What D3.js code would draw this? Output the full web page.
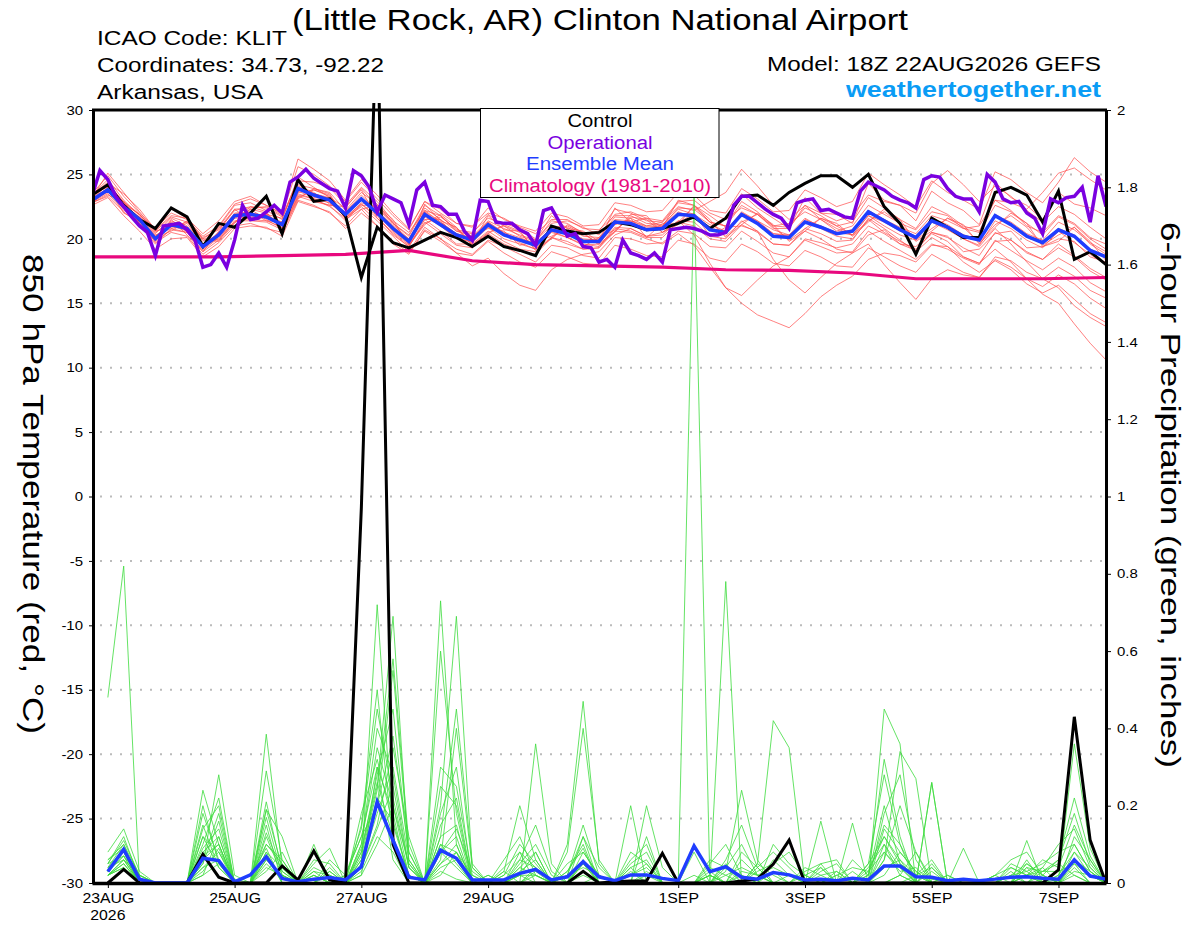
<!DOCTYPE html>
<html>
<head>
<meta charset="utf-8">
<script src="https://cdn.jsdelivr.net/npm/d3@7"></script>
<style>
  body { margin: 0; background: #fff; }
  text { font-family: "Liberation Sans", Arial, Helvetica, sans-serif; }
</style>
</head>
<body>
<svg id="chart"></svg>
<script>
// ---- data ----
const xTickDates = ["2026-08-23", "2026-08-25", "2026-08-27", "2026-08-29", "2026-09-01", "2026-09-03", "2026-09-05", "2026-09-07"];
const xTickLabels = ["23AUG", "25AUG", "27AUG", "29AUG", "1SEP", "3SEP", "5SEP", "7SEP"];
const tempTicks = [30, 25, 20, 15, 10, 5, 0, -5, -10, -15, -20, -25, -30];
const precipTicks = [0, 0.2, 0.4, 0.6, 0.8, 1, 1.2, 1.4, 1.6, 1.8, 2];
const gridTemps = [25, 20, 15, 10, 5, 0, -5, -10, -15, -20, -25];

// 850 hPa temperature, 6-hourly from 18Z 22AUG
const controlTemp = [23.4,24.2,22.6,21.5,20.8,22.4,21.7,19.4,21.2,20.9,22.0,23.3,20.4,24.6,22.9,23.1,21.8,17.0,20.9,19.7,19.3,19.9,20.5,20.1,19.4,20.2,19.4,19.1,18.7,21.0,20.6,20.4,20.5,21.3,21.1,20.7,20.8,21.2,21.7,20.8,21.6,23.3,23.4,22.6,23.6,24.3,24.9,24.9,24.0,25.0,22.5,21.2,18.8,21.6,20.9,20.1,20.1,23.6,24.0,23.4,21.3,23.7,18.4,19.0,18.0];
const meanTemp = [23.0,23.8,22.5,21.5,20.0,21.1,20.8,19.4,20.3,21.8,21.9,21.7,21.1,23.9,23.4,23.0,21.9,23.1,22.0,20.8,19.8,21.9,21.1,20.3,19.9,21.1,20.3,19.9,19.5,20.7,20.4,19.8,19.8,21.3,21.2,20.7,20.8,21.9,21.8,20.7,20.5,21.9,21.2,20.2,20.1,21.3,20.9,20.4,20.6,22.1,21.4,20.7,20.1,21.4,20.9,20.2,19.9,21.8,21.1,20.2,19.7,20.7,20.2,19.1,18.6];
// operational run is 3-hourly
const operTemp = [23.3,25.3,24.6,23.3,22.5,21.7,21.0,20.5,18.7,21.0,21.1,21.2,20.7,19.9,17.8,18.0,18.9,17.8,19.9,22.6,21.5,21.6,22.1,22.6,22.0,24.4,24.8,25.4,24.7,24.3,23.9,23.7,22.4,25.3,24.9,24.0,22.1,23.4,23.1,22.8,21.1,23.8,24.4,22.6,22.5,21.9,21.9,20.6,19.9,23.0,22.9,21.3,21.2,21.2,20.7,20.4,19.5,22.2,22.4,21.3,20.2,20.4,19.4,19.3,18.2,18.4,17.8,19.9,18.9,18.7,18.4,18.9,18.2,20.7,20.8,20.9,20.8,20.6,20.3,20.3,20.5,22.6,23.3,23.3,22.8,22.3,21.9,21.6,20.8,22.8,23.0,23.1,22.2,22.3,22.0,21.7,21.6,23.7,24.4,24.1,23.8,23.3,23.0,22.8,22.4,24.6,24.9,24.8,23.9,23.3,23.1,23.1,22.1,25.0,24.4,23.1,22.8,22.9,22.0,21.6,20.4,23.1,22.8,23.2,23.3,24.0,21.3,24.9,22.5];
// climatology, one value per day at 18Z
const climTemp = [18.6,18.6,18.6,18.7,18.8,19.1,18.3,18.0,17.9,17.8,17.6,17.55,17.35,16.9,16.9,16.9,17.0];

const memberTemps = [
  [23.4,24.6,23.0,21.8,20.4,21.6,21.0,19.8,20.9,22.6,22.8,22.2,21.5,24.8,24.0,23.2,22.4,23.9,22.5,21.2,20.3,22.6,21.8,20.6,20.4,21.9,21.0,20.2,19.8,21.4,21.2,20.4,20.6,22.3,22.0,21.4,21.3,22.8,22.6,21.3,21.0,22.9,22.1,21.0,20.9,22.4,21.8,21.0,21.3,23.2,22.4,21.5,20.8,22.5,21.9,21.0,20.6,23.0,22.2,21.0,20.5,21.8,21.2,20.1,19.6],
  [22.6,23.2,21.8,20.6,19.2,20.0,20.1,18.6,19.4,20.8,21.0,20.9,20.2,22.9,22.5,22.1,20.8,22.0,21.0,19.6,18.8,20.7,20.0,19.2,18.8,19.9,19.4,18.8,18.2,19.5,19.3,18.7,18.5,20.1,20.0,19.6,19.7,20.6,20.4,19.4,19.3,20.6,19.8,18.9,18.6,19.9,19.4,18.9,19.0,20.6,19.8,19.1,18.4,19.6,19.2,18.5,18.0,19.9,19.1,18.3,17.6,18.5,17.8,16.6,15.9],
  [23.1,24.2,22.9,21.2,19.9,21.5,20.3,19.0,20.6,22.3,21.4,21.9,21.6,24.6,23.0,22.6,22.5,23.8,21.6,20.5,19.5,22.7,21.4,20.9,19.6,21.8,20.7,20.6,19.9,21.8,20.8,20.6,19.8,22.4,21.3,21.6,20.9,23.0,22.6,21.8,20.9,23.5,22.4,21.6,20.8,23.2,22.0,21.9,21.2,24.3,23.0,22.6,21.4,23.7,22.8,22.2,21.1,24.4,23.2,22.6,21.5,23.6,22.7,22.4,21.8],
  [22.9,23.5,22.2,21.7,20.3,20.8,21.2,19.6,20.0,21.6,22.3,21.5,20.8,23.6,23.8,23.3,21.6,22.8,22.4,21.1,20.0,21.5,21.5,20.0,20.3,20.8,20.6,19.5,19.8,20.2,20.8,19.4,20.1,20.7,21.6,20.1,21.2,21.2,22.0,20.2,20.9,21.0,20.6,18.4,16.8,15.8,17.0,18.1,18.9,20.3,20.7,19.6,19.4,20.5,20.2,19.0,19.2,20.4,20.6,19.3,19.4,20.0,19.8,18.6,18.2],
  [23.2,23.9,22.4,21.0,19.6,20.8,20.5,19.1,20.1,21.3,21.6,21.9,21.0,23.5,23.1,22.8,21.7,22.7,21.8,20.3,19.4,21.5,20.6,19.6,19.6,20.6,19.8,19.2,19.0,20.1,19.6,19.2,19.3,20.6,20.5,20.0,19.6,20.4,19.5,17.8,16.2,15.0,14.1,13.6,13.1,14.2,15.5,16.4,17.1,18.4,18.9,18.7,18.2,19.5,19.4,18.6,18.1,19.8,19.9,18.9,18.4,19.3,18.6,17.5,16.8],
  [23.0,23.6,22.7,21.9,20.5,21.3,20.6,19.3,20.5,22.0,22.1,21.4,21.3,24.1,23.6,22.7,22.1,23.4,22.2,21.0,19.9,22.2,21.3,20.4,20.1,21.3,20.5,20.1,19.6,20.9,20.6,19.9,20.0,21.5,21.4,20.9,21.0,22.1,21.6,20.8,20.6,22.0,21.4,20.4,20.3,21.3,20.8,20.2,20.0,21.5,20.5,19.8,19.2,20.4,19.8,18.6,18.1,19.2,18.2,16.9,15.7,15.0,13.4,11.9,10.6],
  [23.5,24.9,23.3,22.0,20.8,22.0,21.5,20.2,21.0,22.7,23.1,22.6,21.9,25.6,25.0,24.1,22.9,24.4,23.1,21.8,20.7,22.9,22.0,21.2,20.9,22.4,21.5,21.0,20.6,22.0,21.7,21.0,21.1,22.8,22.6,22.1,22.2,23.6,23.4,22.2,22.0,23.9,23.1,22.1,22.2,23.8,23.2,22.5,22.9,25.1,24.2,23.4,22.5,24.5,23.6,23.0,22.3,25.2,24.6,23.6,22.8,24.4,26.3,25.2,24.4],
  [22.8,23.4,22.9,21.2,20.1,20.6,21.4,19.9,19.8,21.2,22.5,22.1,20.6,23.1,23.9,23.5,21.5,22.3,22.6,21.5,19.5,21.1,21.9,20.9,19.5,20.4,21.1,20.6,19.1,20.0,21.1,20.5,19.5,20.5,21.9,21.8,20.5,21.1,22.6,21.5,20.1,21.1,22.0,21.1,19.8,20.6,21.6,21.2,20.2,21.3,22.3,21.5,19.8,20.6,21.6,21.1,19.6,20.9,22.0,21.2,19.4,19.8,20.9,19.8,18.3],
  [23.6,24.0,22.0,21.4,19.7,20.5,20.2,18.8,19.7,21.0,21.2,20.8,20.5,23.0,22.6,22.0,21.0,22.3,21.0,19.8,18.9,20.6,19.8,18.9,18.7,19.8,18.9,18.2,17.8,19.0,18.6,18.1,18.0,19.5,19.2,18.7,18.6,19.9,19.6,18.5,18.2,19.6,19.0,18.1,17.9,19.1,18.6,17.9,17.8,19.3,18.6,17.9,17.4,18.8,18.1,17.4,17.0,18.4,17.8,16.9,16.3,17.2,16.5,15.4,14.6],
  [22.7,23.9,22.6,21.6,20.2,21.2,20.9,19.2,20.2,21.6,21.7,21.8,21.2,23.7,23.2,23.1,21.8,23.2,22.1,20.9,19.9,22.1,21.0,20.0,19.8,21.2,20.4,19.7,19.2,20.6,20.1,19.5,19.6,21.1,21.4,21.0,21.3,22.5,22.2,22.9,23.6,25.4,24.1,22.6,21.5,22.6,21.5,20.8,20.3,21.8,21.0,20.3,19.9,21.3,20.7,20.0,19.5,21.4,20.8,19.9,19.3,20.6,19.7,18.8,18.0],
  [23.3,24.3,23.5,22.3,20.7,21.8,21.6,20.0,20.8,22.3,22.4,22.5,21.8,24.5,24.4,24.0,22.6,24.0,22.9,21.4,20.5,22.2,21.8,20.7,20.5,21.6,21.2,20.8,20.0,21.2,21.4,20.9,20.3,21.9,22.1,21.6,21.4,22.9,23.0,22.0,21.5,22.4,21.9,21.0,21.2,22.1,21.5,20.6,21.0,22.6,21.9,21.2,20.7,22.1,21.8,20.8,20.5,22.6,22.1,21.2,20.3,21.7,21.1,20.0,19.2],
  [22.9,23.7,22.3,21.3,19.9,21.0,20.6,19.5,20.4,21.9,21.5,21.4,20.9,23.4,23.1,22.5,21.6,22.5,21.4,20.2,19.0,20.9,20.0,18.9,17.9,18.5,17.3,16.4,16.0,17.6,18.4,18.8,19.0,20.3,20.8,20.2,20.5,21.4,20.3,18.1,16.2,15.6,16.8,17.9,18.6,20.0,19.7,19.3,19.6,21.0,20.4,19.6,19.1,20.5,20.1,19.3,18.7,20.5,19.9,19.0,18.4,19.6,18.7,17.7,17.0],
  [23.2,25.1,23.6,22.1,20.6,22.3,21.6,20.4,21.4,22.9,23.3,22.6,22.0,26.2,25.4,24.5,23.0,24.6,23.4,22.0,20.8,22.9,22.3,21.2,21.0,22.0,21.6,20.9,20.4,21.5,21.5,20.8,20.7,21.8,21.8,21.2,21.1,22.3,21.9,21.1,20.6,22.1,21.4,20.7,20.3,21.6,20.9,20.5,20.3,21.8,21.3,20.6,20.1,21.6,21.1,20.3,19.9,21.8,21.3,20.4,19.9,21.3,20.7,19.7,19.0],
  [23.0,24.0,22.6,21.7,20.1,21.4,20.9,19.6,20.4,21.9,22.0,21.8,21.3,24.0,23.5,23.2,21.9,23.0,21.9,20.6,19.6,21.7,21.0,20.1,19.7,20.9,20.0,19.6,19.2,20.5,20.1,19.6,19.4,20.9,20.8,20.2,20.3,21.4,21.3,20.2,20.0,21.4,20.6,19.6,19.5,20.8,20.4,19.8,19.9,21.6,20.8,19.9,19.0,20.1,19.4,18.2,17.4,18.3,17.6,16.5,15.8,16.4,15.3,14.2,13.5],
  [23.4,24.4,22.8,21.9,20.6,21.7,21.3,20.1,20.7,22.2,22.5,22.4,21.7,24.2,23.9,23.6,22.2,23.6,22.7,21.2,20.2,22.4,21.5,20.6,20.2,21.4,20.8,20.3,19.9,21.0,20.9,20.2,20.1,21.7,21.6,21.0,21.0,22.4,22.3,21.3,21.0,22.6,21.9,20.8,20.8,22.6,22.0,21.4,21.8,23.4,22.9,22.6,22.0,24.3,25.3,24.2,22.9,24.1,23.3,22.2,21.3,22.5,21.9,20.9,20.0],
  [22.8,23.3,22.1,21.1,19.8,20.7,20.5,19.0,19.9,21.4,21.4,21.3,20.7,23.3,22.9,22.6,21.4,22.7,21.6,20.4,19.4,21.3,20.4,19.5,19.3,20.4,19.6,19.1,18.8,20.1,19.8,19.2,19.3,20.8,20.6,20.1,20.1,21.3,21.0,20.0,19.8,21.1,20.5,19.6,19.5,20.6,20.0,19.2,18.9,19.6,18.0,16.6,15.3,16.9,17.6,17.2,17.0,18.6,18.3,17.4,16.9,17.8,17.1,16.0,15.4],
  [23.1,23.8,22.5,21.5,20.2,21.0,20.9,19.5,20.5,21.9,22.0,21.6,21.2,23.9,23.5,23.1,22.0,23.2,22.1,20.9,20.0,22.1,21.3,20.4,20.0,21.3,20.4,20.0,19.7,20.8,20.5,20.0,19.9,21.4,21.3,20.8,20.9,22.0,21.9,20.8,20.6,22.0,21.3,20.4,20.2,21.5,21.0,20.5,20.7,22.2,21.5,20.8,20.2,21.5,21.0,20.3,20.0,21.9,21.2,20.3,19.8,20.8,20.3,19.2,18.7],
  [23.3,24.1,22.7,21.6,20.2,21.2,20.8,19.4,20.3,21.9,21.9,21.7,21.1,23.9,23.5,23.0,21.9,23.1,22.1,20.8,19.9,21.9,21.1,20.3,20.0,21.1,20.4,19.9,19.6,20.7,20.4,19.8,19.9,21.3,21.2,20.7,20.9,21.9,21.8,20.7,20.5,21.9,21.2,20.2,20.2,21.3,21.0,20.4,20.7,22.2,21.5,20.9,20.4,21.8,21.4,20.8,21.0,23.0,22.8,22.3,23.6,25.1,25.5,24.6,23.8],
  [22.9,23.7,22.9,21.9,20.6,20.9,21.3,20.0,19.9,21.3,22.3,22.0,20.8,23.2,23.8,23.4,21.6,22.6,22.6,21.3,19.6,21.2,21.7,20.8,19.5,20.5,21.0,20.5,19.2,20.1,21.0,20.4,19.6,20.6,21.7,21.5,20.5,21.3,22.5,21.3,20.2,21.3,21.9,20.9,19.9,20.8,21.6,21.0,20.3,21.4,22.1,21.2,19.9,20.8,21.6,20.9,19.7,21.1,21.8,20.9,19.5,20.3,20.9,19.6,18.8],
  [23.0,23.9,22.6,21.5,20.0,21.2,20.9,19.4,20.3,21.8,22.0,21.8,21.2,24.0,23.5,23.1,22.0,23.2,22.0,20.8,19.8,22.0,21.2,20.4,20.0,21.2,20.3,19.9,19.5,20.8,20.5,19.9,19.8,21.3,21.2,20.7,20.8,21.9,21.8,20.7,20.5,21.9,21.2,20.2,20.1,21.3,20.9,20.4,20.6,22.1,21.4,20.7,20.1,21.4,20.9,20.0,19.4,20.8,19.6,18.2,16.9,16.2,14.8,13.9,13.2]
];

// 6-hour precipitation (inches), 6-hourly from 00Z 23AUG
const controlPrecip = [0,0.035,0,0,0,0,0.074,0.015, 0,0,0,0.044,0.008,0.083,0.008,0, 0.97,2.3,0.1,0,0,0,0,0, 0,0,0,0,0,0,0.03,0, 0.003,0.005,0.005,0.077,0,0,0,0, 0.005,0.01,0.049,0.111,0,0,0,0, 0,0,0,0,0,0,0,0, 0,0,0,0,0.034,0.43,0.111,0];
const meanPrecip = [0.03,0.087,0.01,0,0,0,0.064,0.058, 0.003,0.021,0.068,0.012,0.003,0.01,0.014,0.008, 0.042,0.21,0.11,0.015,0.008,0.085,0.064,0.008, 0.008,0.008,0.025,0.035,0.008,0.016,0.055,0.016, 0.006,0.021,0.021,0.012,0.006,0.096,0.029,0.042, 0.015,0.01,0.027,0.021,0.008,0.01,0.006,0.012, 0.008,0.044,0.044,0.016,0.015,0.006,0.01,0.006, 0.01,0.015,0.016,0.012,0.01,0.06,0.018,0.01];

const memberPrecips = [
  [.48,.82,0,0,0,0,.02,.05, 0,0,.06,.02,0,0,0,0, .04,.72,.12,0,0,.03,.01,0, 0,0,0,.02,0,0,.05,0, 0,0,0,0,0,0,0,.03, .24,.06,0,0,0,0,0,0, 0,0,.02,.08,.01,0,0,0, 0,0,0,0,.01,.36,.09,0],
  [.05,.12,.01,0,0,0,.24,.10, 0,.02,.09,0,0,.02,0,0, .08,.25,.69,.05,0,.20,.69,.04, 0,0,.04,.02,0,0,0,0, 0,.03,0,0,0,0,.02,0, 0,0,.03,0,0,.04,0,0, 0,.45,.36,0,0,0,0,0, 0,0,.02,.04,0,.02,0,0],
  [.03,.08,0,0,0,0,.05,.28, .02,0,.385,.04,0,0,0,.02, .12,.30,.06,0,0,.73,.10,0, 0,0,0,0,0,0,0,.02, 0,0,0,0,0,1.79,0,.05, 0,0,0,0,.04,.02,0,0, 0,.04,.06,0,0,0,0,0, 0,.02,0,0,0,0,0,0],
  [.02,.06,0,0,0,0,.18,.06, 0,0,.29,.06,0,0,.02,0, .10,.35,.20,.02,0,.60,.18,0, 0,.03,0,.36,.05,0,0,0, 0,0,.02,0,0,0,0,.78, 0,0,0,.02,0,0,0,0, 0,.10,.02,0,0,0,0,0, 0,0,.04,0,0,.05,.02,0],
  [.04,.10,0,0,0,0,.06,.18, 0,0,.21,.03,0,.10,0,0, .02,.30,.18,0,0,.08,.04,0, 0,0,.02,0,0,.10,.47,.05, 0,0,0,0,0,0,0,0, 0,.05,.42,.35,0,0,0,0, 0,0,0,.02,.06,0,0,0, 0,0,.02,0,0,.04,0,0],
  [.02,.05,0,0,0,0,.15,.04, 0,0,.19,.12,0,0,.06,.02, .14,.45,.22,.04,0,.05,.08,0, 0,0,0,.04,0,.08,.40,.06, 0,0,0,0,0,0,.02,0, 0,0,0,0,0,0,.03,0, 0,.06,.34,.27,0,0,0,0, 0,0,0,.03,.05,.02,0,0],
  [.03,.07,0,0,0,0,.10,.22, 0,0,.15,0,0,0,0,0, .06,.20,.55,.08,0,.12,.45,.05, 0,.03,.20,.06,0,0,.03,0, 0,.20,0,0,0,0,.05,.10, .02,0,0,0,0,0,0,0, .03,.12,.05,0,.26,0,0,0, 0,0,0,0,0,.03,.02,0],
  [.02,.04,0,0,0,0,.08,.12, 0,0,.10,.05,0,0,0,0, .05,.18,.30,.06,0,.15,.22,0, 0,0,.05,.10,.02,0,.12,0, 0,0,.20,.04,0,0,0,0, 0,0,0,0,0,.16,0,.155, 0,0,.02,0,.26,0,.09,0, 0,0,.11,0,0,0,0,0],
  [.06,.09,.01,0,0,0,.12,.08, .01,0,.04,.02,0,.05,.09,0, .06,.22,.16,.02,0,.08,.12,0, .02,0,.08,.04,0,.03,.10,0, 0,.05,.08,0,0,0,.06,.04, 0,.03,.05,.08,.02,0,0,0, .05,.28,.10,0,.04,0,0,0, 0,.02,.03,.05,.08,.10,.03,0],
  [.04,.06,.02,0,0,0,.05,.16, 0,0,.12,.02,0,.03,.02,0, .10,.40,.28,.04,0,.30,.25,.02, 0,.06,.12,.02,0,.02,.15,.02, 0,.02,.05,0,0,0,0,0, .08,.04,0,0,0,.05,.06,0, 0,.06,.20,.08,0,0,0,0, .02,.06,.08,.02,0,.12,.06,0],
  [.02,.05,0,0,0,0,.04,.06, 0,0,.05,.01,0,.02,0,0, .15,.50,.10,0,0,.04,.06,0, 0,0,.02,.08,0,0,.06,0, 0,0,0,0,0,.08,0,0, .02,0,.10,.05,.02,0,0,.06, .02,.32,.12,0,.03,0,0,0, 0,.03,0,.02,.06,.18,.05,0],
  [.08,.14,.03,0,0,0,.06,.10, 0,0,.08,.04,0,0,.03,0, .04,.15,.35,.12,0,.10,.05,0, 0,0,0,0,0,.05,.08,.02, 0,.08,.05,0,0,0,.03,0, 0,0,.06,.02,0,0,.02,.04, .03,.08,.04,0,0,0,0,0, 0,0,.05,.02,0,.08,.04,0],
  [.03,.07,0,0,0,0,.20,.05, 0,0,.17,.02,0,.02,0,0, .08,.28,.45,.06,0,.18,.30,0, 0,.02,.10,.05,0,0,.02,0, 0,0,.03,0,0,0,.04,.02, 0,.05,.02,0,0,.03,.05,0, .02,.20,.05,.02,0,0,0,0, 0,.04,.02,0,0,.06,.03,0],
  [.05,.11,.02,0,0,0,.09,.14, 0,.02,.10,.06,0,0,0,.02, .12,.20,.38,.08,0,.05,.10,0, 0,0,.06,.15,.03,0,.05,0, 0,.04,0,0,0,0,.02,0, 0,0,0,0,.02,.04,0,0, 0,.18,.28,.06,0,.02,0,0, 0,0,0,.04,.10,.14,.04,0],
  [.02,.04,0,0,0,0,.03,.09, 0,0,.07,0,0,0,0,0, .03,.12,.08,0,0,.06,.40,.04, 0,.04,.08,0,0,.02,.12,.04, 0,0,.12,0,0,0,0,.06, .15,.04,0,0,0,0,.02,0, .04,.10,.04,0,.05,0,0,0, .02,0,.06,0,.02,.08,.02,0],
  [.04,.08,.01,0,0,0,.12,.04, 0,0,.03,.08,0,.06,.05,0, .18,.32,.15,.02,0,.02,.08,.02, 0,0,0,.03,0,0,.06,0, 0,0,0,0,0,.02,0,.04, .10,.02,0,0,0,0,0,.03, 0,.02,.08,.03,0,0,0,0, 0,0,.02,.03,.06,.22,.07,0],
  [.03,.09,0,0,0,0,.07,.10, 0,0,.13,.03,0,0,.04,0, .07,.24,.58,.10,0,.12,.15,0, .02,0,.03,.06,0,.03,.09,0, 0,.02,.04,0,0,0,0,0, 0,.04,.08,.04,0,0,0,0, .02,.15,.10,.02,0,0,0,0, 0,.02,.05,.02,0,.06,.02,0],
  [.06,.10,.02,0,0,0,.04,.08, 0,0,.06,.02,0,.03,0,0, .02,.10,.20,.05,0,.08,.14,.03, 0,0,.02,.02,0,.02,.04,.02, 0,.06,.10,0,0,0,0,.02, .04,.02,0,0,.03,.05,0,0, .05,.12,.06,.02,.04,0,0,0, 0,.05,.03,0,.02,.10,.03,0],
  [.02,.06,0,0,0,0,.14,.20, 0,0,.19,.04,0,0,.03,0, .09,.26,.12,0,0,.25,.20,0, 0,0,.04,.08,0,0,.03,0, 0,0,0,0,0,0,0,0, .06,.02,0,0,0,.02,.03,0, 0,.08,.03,.04,0,0,0,0, 0,0,.04,.03,.03,.05,0,0],
  [.05,.07,.02,0,0,0,.02,.12, 0,0,.08,0,0,.04,.02,0, .04,.14,.25,.04,0,.10,.08,0, 0,.02,.06,.04,0,0,.08,.02, 0,.04,.06,0,0,0,.02,0, .03,.02,.04,.02,0,0,0,0, 0,.14,.08,.03,0,.02,0,0, .02,.04,.02,.06,.04,.15,.06,0]
];

// ---- chart ----
const W = 1200, H = 927;
const svg = d3.select("#chart").attr("width", W).attr("height", H);
svg.append("rect").attr("width", W).attr("height", H).attr("fill", "#fff");

// the original lettering is a wide sans; stretch glyphs horizontally
function widen(sel, factor) {
  sel.each(function () {
    const w = this.getComputedTextLength();
    d3.select(this).attr("textLength", w * factor).attr("lengthAdjust", "spacingAndGlyphs");
  });
}

const startTime = Date.UTC(2026, 7, 22, 18);
const HOUR = 3600e3;
const t6 = d3.range(65).map(i => new Date(startTime + i * 6 * HOUR));
const t3 = d3.range(129).map(j => new Date(startTime + j * 3 * HOUR));
const tDay = d3.range(17).map(k => new Date(startTime + k * 24 * HOUR));

const x = d3.scaleUtc().domain([t6[0], t6[64]]).range([92, 1106]);
const yT = d3.scaleLinear().domain([-30, 30]).range([883, 110]);
const yP = d3.scaleLinear().domain([0, 2]).range([883, 110]);

svg.append("clipPath").attr("id", "plotclip")
    .append("rect").attr("x", 92).attr("y", 103).attr("width", 1016).attr("height", 782);

// dotted grid
svg.append("g").selectAll("line").data(gridTemps).join("line")
    .attr("x1", 100).attr("x2", 1102)
    .attr("y1", d => yT(d)).attr("y2", d => yT(d))
    .style("stroke", "#bbbbbb").style("stroke-width", 2)
    .style("stroke-dasharray", "2,8");

const lineT6 = d3.line().x((d, i) => x(t6[i])).y(d => yT(d));
const lineT3 = d3.line().x((d, i) => x(t3[i])).y(d => yT(d));
const lineClim = d3.line().x((d, i) => x(tDay[i])).y(d => yT(d));
const lineP = d3.line().x((d, i) => x(t6[i + 1])).y(d => yP(d));

const plot = svg.append("g").attr("clip-path", "url(#plotclip)");

plot.selectAll(".mt").data(memberTemps).join("path")
    .attr("d", lineT6).style("fill", "none")
    .style("stroke", "#ff4a4a").style("stroke-width", 0.7);

plot.selectAll(".mp").data(memberPrecips).join("path")
    .attr("d", lineP).style("fill", "none")
    .style("stroke", "#3ddc3d").style("stroke-width", 0.8);

plot.append("path").attr("d", lineClim(climTemp)).style("fill", "none")
    .style("stroke", "#e8087e").style("stroke-width", 3.2);

// control (black) temp + precip
plot.append("path").attr("d", lineT6(controlTemp)).style("fill", "none")
    .style("stroke", "#000").style("stroke-width", 3);
plot.append("path").attr("d", lineP(controlPrecip)).style("fill", "none")
    .style("stroke", "#000").style("stroke-width", 3);

// ensemble mean (blue)
plot.append("path").attr("d", lineT6(meanTemp)).style("fill", "none")
    .style("stroke", "#1f3dff").style("stroke-width", 3.5);
plot.append("path").attr("d", lineP(meanPrecip)).style("fill", "none")
    .style("stroke", "#1f3dff").style("stroke-width", 3.5);

// operational (purple)
plot.append("path").attr("d", lineT3(operTemp)).style("fill", "none")
    .style("stroke", "#7a00e0").style("stroke-width", 3.5);

// ---- axes ----
const font = "'Liberation Sans', Arial, Helvetica, sans-serif";

const axL = svg.append("g").attr("transform", "translate(93,0)")
    .call(d3.axisLeft(yT).tickValues(tempTicks).tickSize(4).tickSizeOuter(0).tickPadding(6)
        .tickFormat(d => String(d)));
axL.attr("font-family", font).attr("font-size", 13);
axL.select(".domain").style("stroke-width", 3);
widen(axL.selectAll(".tick text"), 1.15);

const axR = svg.append("g").attr("transform", "translate(1106,0)")
    .call(d3.axisRight(yP).tickValues(precipTicks).tickSize(5).tickSizeOuter(0).tickPadding(6)
        .tickFormat(d => String(+d.toFixed(1))));
axR.attr("font-family", font).attr("font-size", 13);
axR.select(".domain").style("stroke-width", 3);
widen(axR.selectAll(".tick text"), 1.15);

const xTicks = xTickDates.map(s => new Date(s + "T00:00:00Z"));
const axB = svg.append("g").attr("transform", "translate(0,883)")
    .call(d3.axisBottom(x).tickValues(xTicks).tickSize(5).tickSizeOuter(0).tickPadding(5)
        .tickFormat((d, i) => xTickLabels[i]));
axB.attr("font-family", font).attr("font-size", 14);
axB.select(".domain").style("stroke-width", 3.5);
widen(axB.selectAll(".tick text"), 1.13);
const yearLabel = svg.append("text").attr("x", x(xTicks[0])).attr("y", 920).attr("text-anchor", "middle")
    .attr("font-size", 14).attr("fill", "#000").text("2026");
widen(yearLabel, 1.13);

// top frame line
svg.append("line").attr("x1", 92).attr("x2", 1107).attr("y1", 110).attr("y2", 110)
    .style("stroke", "#000").style("stroke-width", 3);

// ---- legend ----
const leg = svg.append("g");
leg.append("rect").attr("x", 480.5).attr("y", 108.5).attr("width", 238.5).attr("height", 89)
    .attr("fill", "#fff").attr("stroke", "#000").attr("stroke-width", 1);
const legendItems = [
  ["Control", "#000", 127, 65],
  ["Operational", "#7a00e0", 148.5, 105],
  ["Ensemble Mean", "#1f3dff", 170, 148],
  ["Climatology (1981-2010)", "#e8087e", 191.5, 222]
];
leg.selectAll("text").data(legendItems).join("text")
    .attr("x", 600).attr("y", d => d[2])
    .attr("text-anchor", "middle").attr("font-size", 18)
    .attr("textLength", d => d[3]).attr("lengthAdjust", "spacingAndGlyphs")
    .attr("fill", d => d[1]).text(d => d[0]);

// ---- titles ----
function label(x0, y0, size, anchor, len, str) {
  return svg.append("text").attr("x", x0).attr("y", y0).attr("font-size", size)
      .attr("text-anchor", anchor).attr("textLength", len)
      .attr("lengthAdjust", "spacingAndGlyphs").text(str);
}
label(600, 30, 30, "middle", 616, "(Little Rock, AR) Clinton National Airport");
label(97, 45, 20, "start", 190, "ICAO Code: KLIT");
label(97, 72, 20, "start", 287, "Coordinates: 34.73, -92.22");
label(97, 99, 20, "start", 166, "Arkansas, USA");
label(1101, 71, 20, "end", 334, "Model: 18Z 22AUG2026 GEFS");
label(1101, 97, 22, "end", 255, "weathertogether.net")
    .attr("font-weight", "bold").attr("fill", "#0a9cf5");

svg.append("text").attr("transform", "translate(23,494) rotate(90)")
    .attr("text-anchor", "middle").attr("font-size", 29)
    .attr("textLength", 480).attr("lengthAdjust", "spacingAndGlyphs")
    .text("850 hPa Temperature (red, °C)");
svg.append("text").attr("transform", "translate(1161,495) rotate(90)")
    .attr("text-anchor", "middle").attr("font-size", 28)
    .attr("textLength", 546).attr("lengthAdjust", "spacingAndGlyphs")
    .text("6-hour Precipitation (green, inches)");
</script>
</body>
</html>
